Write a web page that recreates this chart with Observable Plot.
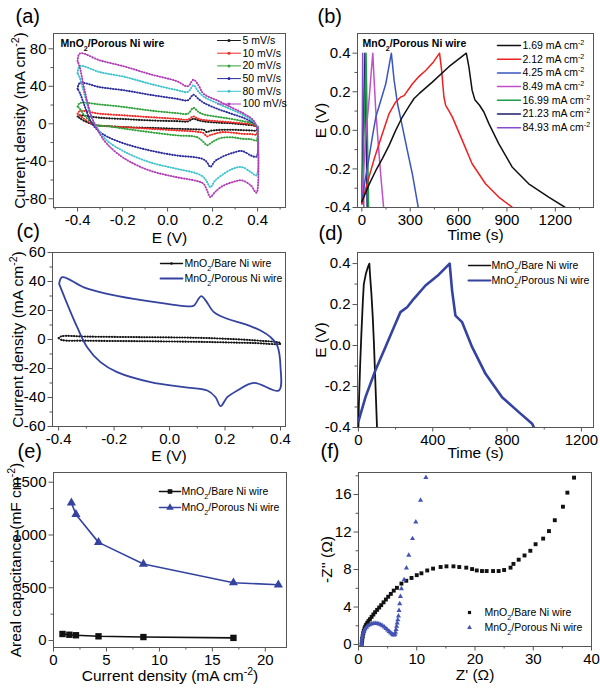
<!DOCTYPE html>
<html><head><meta charset="utf-8">
<script src="https://cdn.jsdelivr.net/npm/d3@7"></script>
<script src="https://cdn.jsdelivr.net/npm/@observablehq/plot@0.6"></script>
<style>
body{margin:0;background:#fff;}
#fig{position:relative;width:600px;height:688px;overflow:hidden;background:#fff;}
#fig svg{position:absolute;}
</style>
</head><body><div id="fig"></div>
<script>
// ---------------- (a) CV at several scan rates ----------------
const cvLabels = ["5 mV/s", "10 mV/s", "20 mV/s", "50 mV/s", "80 mV/s", "100 mV/s"];
const cvColors = ["#1a1a1a", "#ee2a24", "#31a23a", "#2c2c9c", "#3ec4cc", "#b23db6"];
const cvUpperE = [-0.4, -0.39, -0.3, -0.19, -0.08, 0.04, 0.09, 0.115, 0.135, 0.16, 0.22, 0.28, 0.34, 0.38, 0.4];
const cvUpper = [
  [7.8, 8.9, 6.4, 5, 3.6, 2.8, 2.5, 5.3, 3.8, 2.5, 1.2, 0.5, -0.8, -1.8, -3.6],
  [10.7, 13.5, 10.7, 8.9, 7.1, 5.3, 4.5, 7.8, 5.5, 4, 2.8, 1.5, 0.3, -1, -4.3],
  [18.5, 22, 20.6, 17.8, 14.2, 11.4, 10.7, 17, 13, 10, 7.5, 5.3, 2.5, 0.3, -3.6],
  [37.3, 43.4, 39, 35.6, 31, 26.7, 25, 31, 27, 22.5, 16, 11, 6, 1, -3.6],
  [54, 61.5, 55, 50, 42.7, 36, 34, 41, 35, 29, 22, 15.5, 9, 2.5, -3.6],
  [67, 75, 67.6, 61, 53, 45.5, 40, 47, 42, 32, 25, 17.8, 10.7, 4, -5]
];
const cvLowerE = [0.4, 0.395, 0.37, 0.33, 0.29, 0.24, 0.21, 0.19, 0.175, 0.16, 0.13, 0.04, -0.08, -0.19, -0.27, -0.31, -0.34, -0.37, -0.39, -0.4];
const cvLower = [
  [-3.6, -7, -7.1, -6.8, -6.4, -6.4, -7, -7.5, -8.9, -6.4, -6, -5.3, -4.3, -3.6, -2.5, -1.8, 0, 3, 6, 7.8],
  [-4.3, -11.4, -11, -10.7, -9.5, -9, -10.7, -12, -13.5, -10, -8.5, -7.1, -5.3, -3.6, -2.5, -1.8, 0.5, 5, 9, 10.7],
  [-3.6, -17.8, -16.5, -16, -14.5, -15, -17.8, -21, -23, -19.6, -14.2, -12.4, -8.9, -5.3, -2.5, -1.8, 2, 9, 16, 18.5],
  [-3.6, -35, -33.8, -29, -31, -35.6, -40, -46, -41, -38, -36, -33.8, -28.4, -21.3, -13.5, -7, 2, 20, 33, 37.3],
  [-3.6, -55, -51.6, -46.2, -48, -55, -61, -67.6, -62, -57, -53, -48, -41, -30, -17.8, -5.3, 8, 32, 49, 54],
  [-5, -73.6, -65.8, -60.4, -62.2, -67, -73, -78.2, -71, -64, -61, -57, -49.8, -37.3, -21.3, -7.1, 9, 37, 60, 67]
];

// ---------------- (b) GCD at several current densities ----------------
const gcdLabels = ["1.69 mA cm⁻²", "2.12 mA cm⁻²", "4.25 mA cm⁻²", "8.49 mA cm⁻²", "16.99 mA cm⁻²", "21.23 mA cm⁻²", "84.93 mA cm⁻²"];
const gcdColors = ["#111111", "#ee2020", "#3a55c0", "#c050c8", "#1f9a4a", "#1e1e6a", "#8a4ad0"];
const gcdT = [
  [0, 45, 87, 128, 169, 210, 251, 293, 324, 355, 437, 540, 648, 664, 684, 701, 730, 757, 788, 849, 932, 1035, 1159, 1262],
  [0, 25, 45, 76, 107, 138, 169, 210, 240, 262, 313, 355, 396, 440, 482, 495, 509, 520, 532, 561, 623, 684, 767, 849, 935],
  [0, 20, 45, 66, 87, 118, 148, 183, 200, 221, 252, 282, 313, 350],
  [0, 10, 25, 45, 58, 68, 75, 85, 100, 118, 135],
  [0, 8, 15, 22, 26, 30, 35, 42],
  [0, 6, 12, 17, 19, 23, 27, 33],
  [0, 2, 4, 5, 7, 10, 12]
];
const gcdE = [
  [-0.37, -0.28, -0.208, -0.145, -0.078, 0.0, 0.069, 0.125, 0.165, 0.19, 0.25, 0.33, 0.4, 0.329, 0.208, 0.159, 0.13, 0.095, 0.035, -0.069, -0.19, -0.277, -0.346, -0.4],
  [-0.38, -0.3, -0.24, -0.15, -0.07, 0.01, 0.087, 0.147, 0.172, 0.18, 0.24, 0.28, 0.31, 0.35, 0.4, 0.31, 0.173, 0.13, 0.113, 0.07, -0.052, -0.173, -0.277, -0.346, -0.4],
  [-0.37, -0.26, -0.139, -0.03, 0.07, 0.156, 0.24, 0.4, 0.26, 0.139, 0.017, -0.104, -0.225, -0.4],
  [-0.38, -0.22, -0.02, 0.16, 0.3, 0.4, 0.28, 0.12, -0.05, -0.24, -0.4],
  [-0.38, -0.15, 0.05, 0.25, 0.4, 0.2, -0.05, -0.4],
  [-0.38, -0.15, 0.05, 0.25, 0.4, 0.2, -0.05, -0.4],
  [-0.38, -0.1, 0.2, 0.4, 0.2, -0.1, -0.4]
];

// ---------------- (c) CV comparison ----------------
const sampleLabels = ["MnO₂/Bare Ni wire", "MnO₂/Porous Ni wire"];
const bareColor = "#111111", porousColor = "#3543a0";
const cBareE = [-0.4, -0.39, -0.3, -0.1, 0.1, 0.2, 0.3, 0.4, 0.4, 0.3, 0.2, 0.1, -0.1, -0.3, -0.39, -0.4];
const cBareI = [1, 2.2, 2, 1.6, 1.2, 0.5, -0.5, -2.5, -3, -2.4, -2, -1.6, -1.2, -0.8, -0.3, 1];
const cPorE = [-0.398, -0.387, -0.309, -0.225, -0.129, -0.008, 0.076, 0.088, 0.114, 0.13, 0.16, 0.208, 0.268, 0.328, 0.364, 0.388, 0.4, 0.394, 0.304, 0.244, 0.208, 0.184, 0.166, 0.136, 0.052, -0.068, -0.189, -0.249, -0.297, -0.333, -0.369, -0.398];
const cPorI = [38.4, 43, 36, 31.5, 28, 24.6, 22.8, 23.4, 29.9, 27, 18.9, 14.3, 10.8, 6.2, 1.6, -4.1, -19, -35.2, -29.9, -35.2, -39.8, -46, -39.8, -35.2, -32.9, -29.4, -22.5, -15.6, -5.3, 8.5, 24.6, 38.4];

// ---------------- (d) GCD comparison ----------------
const dBareT = [0, 2, 9, 16, 24, 29, 40, 50, 59, 62, 70, 77, 83, 88, 94, 100];
const dBareE = [-0.4, -0.3, -0.1, 0.06, 0.22, 0.3, 0.35, 0.38, 0.4, 0.35, 0.25, 0.14, 0.02, -0.1, -0.25, -0.4];
const dPorT = [0, 38, 91, 145, 199, 226, 262, 298, 361, 432, 491, 504, 522, 558, 612, 684, 773, 863, 935, 945];
const dPorE = [-0.37, -0.252, -0.122, -0.008, 0.106, 0.163, 0.187, 0.228, 0.293, 0.346, 0.4, 0.268, 0.146, 0.114, -0.008, -0.138, -0.252, -0.325, -0.382, -0.4];

// ---------------- (e) areal capacitance ----------------
const eBareJ = [0.85, 1.5, 2.12, 4.25, 8.49, 16.99];
const eBareC = [62, 55, 50, 40, 33, 25];
const ePorJ = [1.69, 2.12, 4.25, 8.49, 16.99, 21.23];
const ePorC = [1305, 1195, 930, 725, 548, 528];

// ---------------- (f) Nyquist ----------------
const fBareRe = [0.55, 0.6, 0.65, 0.72, 0.8, 0.9, 1.02, 1.15, 1.3, 1.5, 1.7, 1.95, 2.25, 2.55, 2.85, 3.2, 3.55, 3.9, 4.3, 4.7, 5.1, 5.55, 6.05, 6.6, 7.37, 8.2, 9.1, 10, 10.8, 11.8, 12.8, 14.1, 15.1, 16.3, 17.3, 18.5, 19.5, 20.3, 21.2, 22, 23.1, 24.06, 25, 26.1, 26.6, 27.5, 28.5, 29.5, 30.4, 31.7, 32.7, 33.7, 35.1, 35.86, 37];
const fBareIm = [0, 0.3, 0.6, 0.9, 1.2, 1.45, 1.7, 1.9, 2.1, 2.3, 2.5, 2.7, 2.95, 3.2, 3.45, 3.7, 3.95, 4.2, 4.5, 4.8, 5.1, 5.4, 5.75, 6.05, 6.5, 6.8, 7.1, 7.4, 7.6, 7.9, 8.1, 8.27, 8.34, 8.34, 8.27, 8.2, 8.05, 7.9, 7.84, 7.84, 7.84, 7.84, 7.95, 8.2, 8.6, 9.05, 9.5, 10, 10.7, 11.3, 12.1, 13.26, 14.7, 16.2, 17.8];
const fPorRe = [0.52, 0.54, 0.58, 0.64, 0.72, 0.83, 0.97, 1.15, 1.37, 1.62, 1.9, 2.2, 2.52, 2.85, 3.18, 3.5, 3.82, 4.13, 4.43, 4.72, 5, 5.27, 5.52, 5.75, 5.95, 6.12, 6.25, 6.35, 6.45, 6.55, 6.65, 6.75, 6.86, 6.96, 7.08, 7.2, 7.37, 7.83, 8.23, 8.63, 9.27, 9.84, 10.65, 11.57];
const fPorIm = [0, 0.25, 0.5, 0.75, 1, 1.25, 1.47, 1.67, 1.85, 2, 2.12, 2.2, 2.25, 2.27, 2.25, 2.2, 2.12, 2, 1.87, 1.72, 1.56, 1.4, 1.25, 1.12, 1.05, 1.02, 1.1, 1.3, 1.6, 1.95, 2.3, 2.65, 3.05, 3.63, 4.35, 5.13, 5.95, 6.91, 8.16, 9.52, 11.3, 13.08, 15.4, 17.82];

// ---------------- helpers ----------------
const FONT = '"Liberation Sans", Arial, Helvetica, sans-serif';
const FRAME = "#555";
const fig = document.getElementById("fig");
const pairs = (xs, ys) => xs.map((x, i) => ({x, y: ys[i]}));

function legend(L, X, Y) {
  if (!L) return [];
  const out = [];
  L.rows.forEach((r, i) => {
    const fy = L.y0 + i * L.dy;
    const seg = [{x: X(L.x0), y: Y(fy)}, {x: X(L.x1), y: Y(fy)}];
    if (r.line) out.push(Plot.line(seg, {x: "x", y: "y", stroke: r.color, strokeWidth: r.sw || 1.4}));
    if (r.symbol) out.push(Plot.dot([{x: X((L.x0 + L.x1) / 2), y: Y(fy)}], {x: "x", y: "y", symbol: r.symbol, r: r.r || 2, fill: r.color, stroke: "none"}));
    out.push(Plot.text([r.label], {text: d => d, frameAnchor: "top-left", dx: L.tx, dy: fy, fontSize: L.fs || 10.5, textAnchor: "start", lineAnchor: "middle", fontWeight: L.fw || "normal"}));
  });
  return out;
}

function fixScripts(svg) {
  for (const t of svg.querySelectorAll("text")) {
    if (t.children.length) continue;
    const s = t.textContent;
    if (!/[⁻²₂]/.test(s)) continue;
    t.textContent = "";
    const re = /([⁻²]+)|(₂+)|([^⁻²₂]+)/g;
    let m;
    while ((m = re.exec(s))) {
      const ts = document.createElementNS("http://www.w3.org/2000/svg", "tspan");
      if (m[1]) { ts.textContent = m[1].replace(/⁻/g, "-").replace(/²/g, "2"); ts.setAttribute("baseline-shift", "super"); ts.setAttribute("font-size", "68%"); }
      else if (m[2]) { ts.textContent = m[2].replace(/₂/g, "2"); ts.setAttribute("baseline-shift", "sub"); ts.setAttribute("font-size", "68%"); }
      else ts.textContent = m[3];
      t.appendChild(ts);
    }
  }
}

function panel(c) {
  const fw = 300 - c.ml - c.mr, fh = c.height - c.mt - c.mb;
  const X = fx => c.xdom[0] + fx / fw * (c.xdom[1] - c.xdom[0]);
  const Y = fy => c.ydom[1] - fy / fh * (c.ydom[1] - c.ydom[0]);
  const svg = Plot.plot({
    width: 300, height: c.height,
    marginLeft: c.ml, marginRight: c.mr, marginTop: c.mt, marginBottom: c.mb,
    style: {fontFamily: FONT, background: "transparent", overflow: "visible", color: "#000"},
    x: {domain: c.xdom}, y: {domain: c.ydom},
    marks: [
      Plot.axisX({ticks: c.xminor, tickSize: 2.5, tickFormat: () => "", stroke: FRAME, label: null}),
      Plot.axisX({ticks: c.xticks, tickSize: 4.5, tickPadding: 2, tickFormat: c.xfmt, fontSize: 15, stroke: FRAME, label: null}),
      Plot.axisY({ticks: c.yminor, tickSize: 2.5, tickFormat: () => "", stroke: FRAME, label: null}),
      Plot.axisY({ticks: c.yticks, tickSize: 4.5, tickPadding: 2.5, tickFormat: c.yfmt, fontSize: 15, stroke: FRAME, label: null}),
      ...c.marks,
      Plot.frame({stroke: FRAME, strokeWidth: 1}),
      ...legend(c.legend, X, Y),
      ...(c.inner ? [Plot.text([c.inner], {text: d => d, frameAnchor: "top-left", dx: c.innerDx, dy: c.innerDy, fontSize: 10.5, fontWeight: "bold", textAnchor: "start", lineAnchor: "middle"})] : []),
      Plot.text([c.xlabel], {text: d => d, frameAnchor: "bottom", dy: c.xlabDy, fontSize: 15.5, textAnchor: "middle", lineAnchor: "middle"}),
      Plot.text([c.ylabel], {text: d => d, frameAnchor: "left", dx: c.ylabDx, rotate: -90, fontSize: 15.5, textAnchor: "middle", lineAnchor: "middle"}),
      Plot.text([c.tag], {text: d => d, frameAnchor: "top-left", dx: c.tagDx, dy: c.tagDy, fontSize: 20, textAnchor: "start", lineAnchor: "middle"})
    ]
  });
  svg.style.left = c.left + "px";
  svg.style.top = c.top + "px";
  fig.appendChild(svg);
  fixScripts(svg);
}

const f1 = d => d.toFixed(1);
const f0 = d => String(d);
const dotted = (data, color) => [
  Plot.line(data, {x: "x", y: "y", z: "b", stroke: color, strokeWidth: 0.9, curve: "catmull-rom"}),
  Plot.line(data, {x: "x", y: "y", z: "b", stroke: color, strokeWidth: 2.1, strokeDasharray: "0 2.7", strokeLinecap: "round", curve: "catmull-rom"})
];

// ---- (a)
const cvMarks = [];
cvLabels.forEach((lab, k) => {
  const data = [
    ...cvUpperE.map((e, i) => ({x: e, y: cvUpper[k][i], b: 0})),
    ...cvLowerE.map((e, i) => ({x: e, y: cvLower[k][i], b: 1}))
  ];
  cvMarks.push(...dotted(data, cvColors[k]));
});
panel({
  left: 0, top: 0, height: 250, ml: 53, mr: 15, mt: 33, mb: 43,
  xdom: [-0.507, 0.524], ydom: [-89.3, 96.3],
  xticks: [-0.4, -0.2, 0, 0.2, 0.4], xminor: [-0.5, -0.3, -0.1, 0.1, 0.3, 0.5], xfmt: f1,
  yticks: [-80, -40, 0, 40, 80], yminor: [-60, -20, 20, 60], yfmt: f0,
  marks: cvMarks,
  legend: {x0: 164, x1: 187, tx: 189, y0: 7, dy: 12.7, fs: 10.5,
    rows: cvLabels.map((l, k) => ({label: l, color: cvColors[k], line: true, sw: 1, symbol: "circle", r: 1.5}))},
  inner: "MnO₂/Porous Ni wire", innerDx: 7, innerDy: 10,
  xlabel: "E (V)", xlabDy: 31, ylabel: "Current density (mA cm⁻²)", ylabDx: -33,
  tag: "(a)", tagDx: -38, tagDy: -17
});

// ---- (b)
panel({
  left: 300, top: 0, height: 250, ml: 57, mr: 7, mt: 33, mb: 43,
  xdom: [-27, 1437], ydom: [-0.4, 0.502],
  xticks: [0, 300, 600, 900, 1200], xminor: [150, 450, 750, 1050, 1350], xfmt: f0,
  yticks: [-0.4, -0.2, 0, 0.2, 0.4], yminor: [-0.3, -0.1, 0.1, 0.3], yfmt: f1,
  marks: gcdLabels.map((l, k) => Plot.line(pairs(gcdT[k], gcdE[k]), {x: "x", y: "y", stroke: gcdColors[k], strokeWidth: 1.5, clip: true})).reverse(),
  legend: {x0: 140, x1: 163, tx: 165, y0: 12, dy: 13.7, fs: 10.5,
    rows: gcdLabels.map((l, k) => ({label: l, color: gcdColors[k], line: true, sw: 1.5}))},
  inner: "MnO₂/Porous Ni wire", innerDx: 5, innerDy: 10,
  xlabel: "Time (s)", xlabDy: 27.5, ylabel: "E (V)", ylabDx: -36,
  tag: "(b)", tagDx: -40, tagDy: -17
});

// ---- (c)
const cBare = cBareE.map((e, i) => ({x: e, y: cBareI[i], b: 0}));
panel({
  left: 0, top: 220, height: 250, ml: 52, mr: 15, mt: 32, mb: 44,
  xdom: [-0.422, 0.418], ydom: [-60, 60],
  xticks: [-0.4, -0.2, 0, 0.2, 0.4], xminor: [-0.3, -0.1, 0.1, 0.3], xfmt: f1,
  yticks: [-60, -40, -20, 0, 20, 40, 60], yminor: [-50, -30, -10, 10, 30, 50], yfmt: f0,
  marks: [
    ...dotted(cBare, bareColor),
    Plot.line(pairs(cPorE, cPorI), {x: "x", y: "y", stroke: porousColor, strokeWidth: 1.8, curve: "catmull-rom"})
  ],
  legend: {x0: 108, x1: 130, tx: 132, y0: 11, dy: 15, fs: 10.5,
    rows: [{label: sampleLabels[0], color: bareColor, line: true, sw: 1.4, symbol: "circle", r: 1.3},
           {label: sampleLabels[1], color: porousColor, line: true, sw: 1.8}]},
  xlabel: "E (V)", xlabDy: 30, ylabel: "Current density (mA cm⁻²)", ylabDx: -34,
  tag: "(c)", tagDx: -36, tagDy: -21
});

// ---- (d)
panel({
  left: 300, top: 220, height: 250, ml: 57, mr: 7, mt: 32, mb: 43,
  xdom: [-5, 1265], ydom: [-0.4, 0.454],
  xticks: [0, 400, 800, 1200], xminor: [200, 600, 1000], xfmt: f0,
  yticks: [-0.4, -0.2, 0, 0.2, 0.4], yminor: [-0.3, -0.1, 0.1, 0.3], yfmt: f1,
  marks: [
    Plot.line(pairs(dBareT, dBareE), {x: "x", y: "y", stroke: bareColor, strokeWidth: 1.8, clip: true}),
    Plot.line(pairs(dPorT, dPorE), {x: "x", y: "y", stroke: porousColor, strokeWidth: 2.6, clip: true})
  ],
  legend: {x0: 111, x1: 133, tx: 134, y0: 13, dy: 15, fs: 10.5,
    rows: [{label: sampleLabels[0], color: bareColor, line: true, sw: 1.4},
           {label: sampleLabels[1], color: porousColor, line: true, sw: 2}]},
  xlabel: "Time (s)", xlabDy: 26, ylabel: "E (V)", ylabDx: -36,
  tag: "(d)", tagDx: -39, tagDy: -19
});

// ---- (e)
panel({
  left: 0, top: 440, height: 248, ml: 53, mr: 14, mt: 32, mb: 41,
  xdom: [0, 22], ydom: [-66, 1592],
  xticks: [0, 5, 10, 15, 20], xminor: [2.5, 7.5, 12.5, 17.5], xfmt: f0,
  yticks: [0, 500, 1000, 1500], yminor: [250, 750, 1250], yfmt: f0,
  marks: [
    Plot.line(pairs(eBareJ, eBareC), {x: "x", y: "y", stroke: bareColor, strokeWidth: 1.6}),
    Plot.dot(pairs(eBareJ, eBareC), {x: "x", y: "y", symbol: "square", r: 3.6, fill: bareColor}),
    Plot.line(pairs(ePorJ, ePorC), {x: "x", y: "y", stroke: porousColor, strokeWidth: 1.6}),
    Plot.dot(pairs(ePorJ, ePorC), {x: "x", y: "y", symbol: "triangle", r: 3.4, fill: porousColor})
  ],
  legend: {x0: 106, x1: 127, tx: 128, y0: 19, dy: 16, fs: 10.5,
    rows: [{label: sampleLabels[0], color: bareColor, line: true, sw: 1.6, symbol: "square", r: 2.6},
           {label: sampleLabels[1], color: porousColor, line: true, sw: 1.6, symbol: "triangle", r: 2.8}]},
  xlabel: "Current density (mA cm⁻²)", xlabDy: 29, ylabel: "Areal capacitance (mF cm⁻²)", ylabDx: -37,
  tag: "(e)", tagDx: -36, tagDy: -21
});

// ---- (f)
panel({
  left: 300, top: 440, height: 248, ml: 58, mr: 9, mt: 32, mb: 42,
  xdom: [0, 40], ydom: [-0.21, 18.35],
  xticks: [0, 10, 20, 30, 40], xminor: [5, 15, 25, 35], xfmt: f0,
  yticks: [0, 4, 8, 12, 16], yminor: [2, 6, 10, 14, 18], yfmt: f0,
  marks: [
    Plot.dot(pairs(fBareRe, fBareIm), {x: "x", y: "y", symbol: "square", r: 2.2, fill: bareColor}),
    Plot.dot(pairs(fPorRe, fPorIm), {x: "x", y: "y", symbol: "triangle", r: 1.9, fill: "#4453b4"})
  ],
  legend: {x0: 109, x1: 113, tx: 126, y0: 140, dy: 15, fs: 10.5,
    rows: [{label: sampleLabels[0], color: bareColor, symbol: "square", r: 1.8},
           {label: sampleLabels[1], color: "#4453b4", symbol: "triangle", r: 1.8}]},
  xlabel: "Z' (Ω)", xlabDy: 28.5, ylabel: "-Z'' (Ω)", ylabDx: -31,
  tag: "(f)", tagDx: -38, tagDy: -21
});
</script>
</body></html>
